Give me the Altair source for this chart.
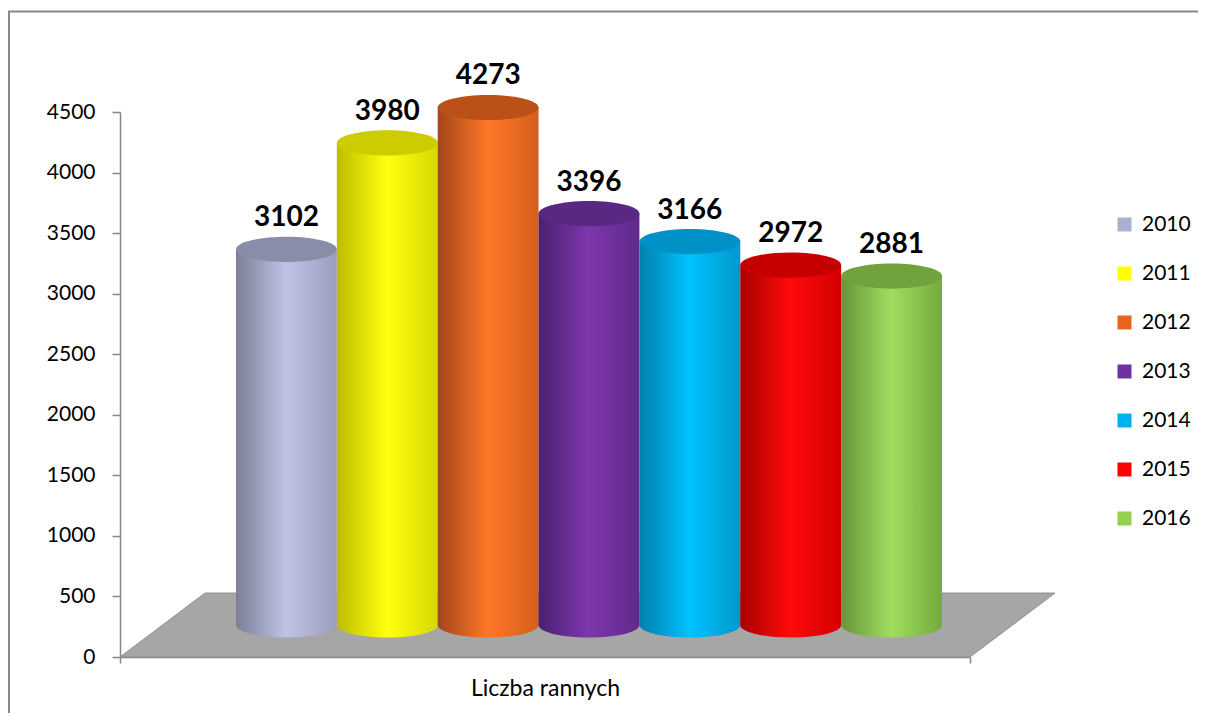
import altair as alt
import pandas as pd

# ---- data ----
years = ["2010", "2011", "2012", "2013", "2014", "2015", "2016"]
values = [3102, 3980, 4273, 3396, 3166, 2972, 2881]
legend_colors = ["#AAB0D2", "#FFFF00", "#E8651E", "#7030A0", "#00B0F0", "#FF0000", "#92D050"]
side_dark = ["#7C7F96", "#BDBD00", "#A3461A", "#4A2070", "#0080AE", "#A80000", "#66953A"]
side_light = ["#C0C3E6", "#FFFF10", "#FF7628", "#7D37AC", "#00C2FF", "#FF0A0A", "#A0DE5E"]
side_right = ["#9A9DBC", "#D8D800", "#D45F1C", "#60298C", "#0098CC", "#D20000", "#75AA3C"]
top_colors = ["#8A8DA8", "#CCCC00", "#BB5018", "#5A2882", "#0092C6", "#C60000", "#72A23C"]
category_title = "Liczba rannych"

# floor of the 3-D box (x in plot-width units, y in value units)
floor_x = [0, 85, 850, 935]
floor_top = [0, 528, 528, 528]
floor_bottom = [0, 0, 0, 528]

df = pd.DataFrame({"year": years, "value": values})
floor_df = pd.DataFrame({"fx": floor_x, "ftop": floor_top, "fbottom": floor_bottom})

W, H = 850, 545
yscale = alt.Scale(domain=[0, 4500], nice=False, zero=True)
yaxis = alt.Axis(values=list(range(0, 4501, 500)), format="d", grid=False, title=None,
                 labelFont="Lato", labelFontSize=21, labelColor="black",
                 labelPadding=17, tickSize=8, tickColor="#868686",
                 domainColor="#868686", domainWidth=1.5, tickWidth=1.5)
xenc = alt.X("year:N", scale=alt.Scale(domain=years, range=[116, 822],
                                       paddingInner=0, paddingOuter=0), axis=None)

ellipse = "M -1 0 A 1 0.25 0 1 0 1 0 A 1 0.25 0 1 0 -1 0 Z"
ell_size = 10170
off = -32


def grad(i):
    return {"gradient": "linear", "x1": 0, "x2": 1, "y1": 0, "y2": 0,
            "stops": [{"offset": 0, "color": side_dark[i]},
                      {"offset": 0.5, "color": side_light[i]},
                      {"offset": 1, "color": side_right[i]}]}


base = alt.Chart(df)
year_layers = []
for i, yr in enumerate(years):
    sub = base.transform_filter(alt.datum.year == yr)
    bottom = sub.mark_point(shape=ellipse, size=ell_size, filled=True, fill=grad(i),
                            opacity=1, strokeWidth=0, yOffset=off).encode(
        x=xenc, y=alt.Y(datum=0, scale=yscale, axis=yaxis))
    body = sub.mark_bar(fill=grad(i), yOffset=off, y2Offset=off).encode(
        x=xenc, y=alt.Y("value:Q", scale=yscale, axis=yaxis), y2=alt.Y2(datum=0))
    top = sub.mark_point(shape=ellipse, size=ell_size, filled=True, fill=top_colors[i],
                         opacity=1, strokeWidth=0, yOffset=off).encode(
        x=xenc, y=alt.Y("value:Q", scale=yscale, axis=yaxis))
    year_layers += [bottom, body, top]

labels = base.mark_text(font="Lato", fontSize=28, fontWeight="bold",
                        baseline="alphabetic", yOffset=off - 23, color="black").encode(
    x=xenc, y=alt.Y("value:Q", scale=yscale, axis=yaxis), text="value:Q")

legend_layer = base.mark_point(shape="square", filled=True, opacity=0).encode(
    x=xenc, y=alt.Y("value:Q", scale=yscale, axis=yaxis),
    color=alt.Color("year:N", scale=alt.Scale(domain=years, range=legend_colors),
                    legend=alt.Legend(title=None, orient="none", legendX=994, legendY=102,
                                      symbolType="square", symbolSize=196,
                                      symbolOpacity=1, symbolStrokeWidth=0,
                                      labelFont="Lato", labelFontSize=21,
                                      labelColor="black", labelOffset=7,
                                      rowPadding=27, padding=0)))

bars = alt.layer(*year_layers, labels, legend_layer)

floor = alt.Chart(floor_df).mark_area(color="#A6A6A6", stroke="#8F8F8F",
                                      strokeWidth=1, opacity=1).encode(
    x=alt.X("fx:Q", scale=alt.Scale(domain=[0, W], nice=False, zero=True),
            axis=alt.Axis(values=[0, W], labels=False, grid=False, orient="bottom",
                          tickSize=6, tickColor="#868686", domainColor="#868686",
                          domainWidth=1.5, tickWidth=1.5, title=category_title,
                          titleFont="Lato", titleFontSize=23, titleFontWeight="normal",
                          titleColor="black", titlePadding=14)),
    y=alt.Y("ftop:Q", scale=yscale, axis=yaxis),
    y2="fbottom:Q")

frame = alt.Chart(alt.Data(values=[{}])).mark_rect(
    fill="transparent", stroke="#898989", strokeWidth=2).encode(
    x=alt.value(-111), x2=alt.value(1130), y=alt.value(-100.5), y2=alt.value(720))

chart = alt.layer(frame, floor, bars).resolve_scale(x="independent").properties(
    width=W, height=H,
    autosize=alt.AutoSizeParams(type="none"),
    padding={"left": 112, "top": 104, "right": 228, "bottom": 56},
    background="white",
).configure_view(stroke=None)

chart.save("out.html", embed_options={"renderer": "svg", "actions": False})
